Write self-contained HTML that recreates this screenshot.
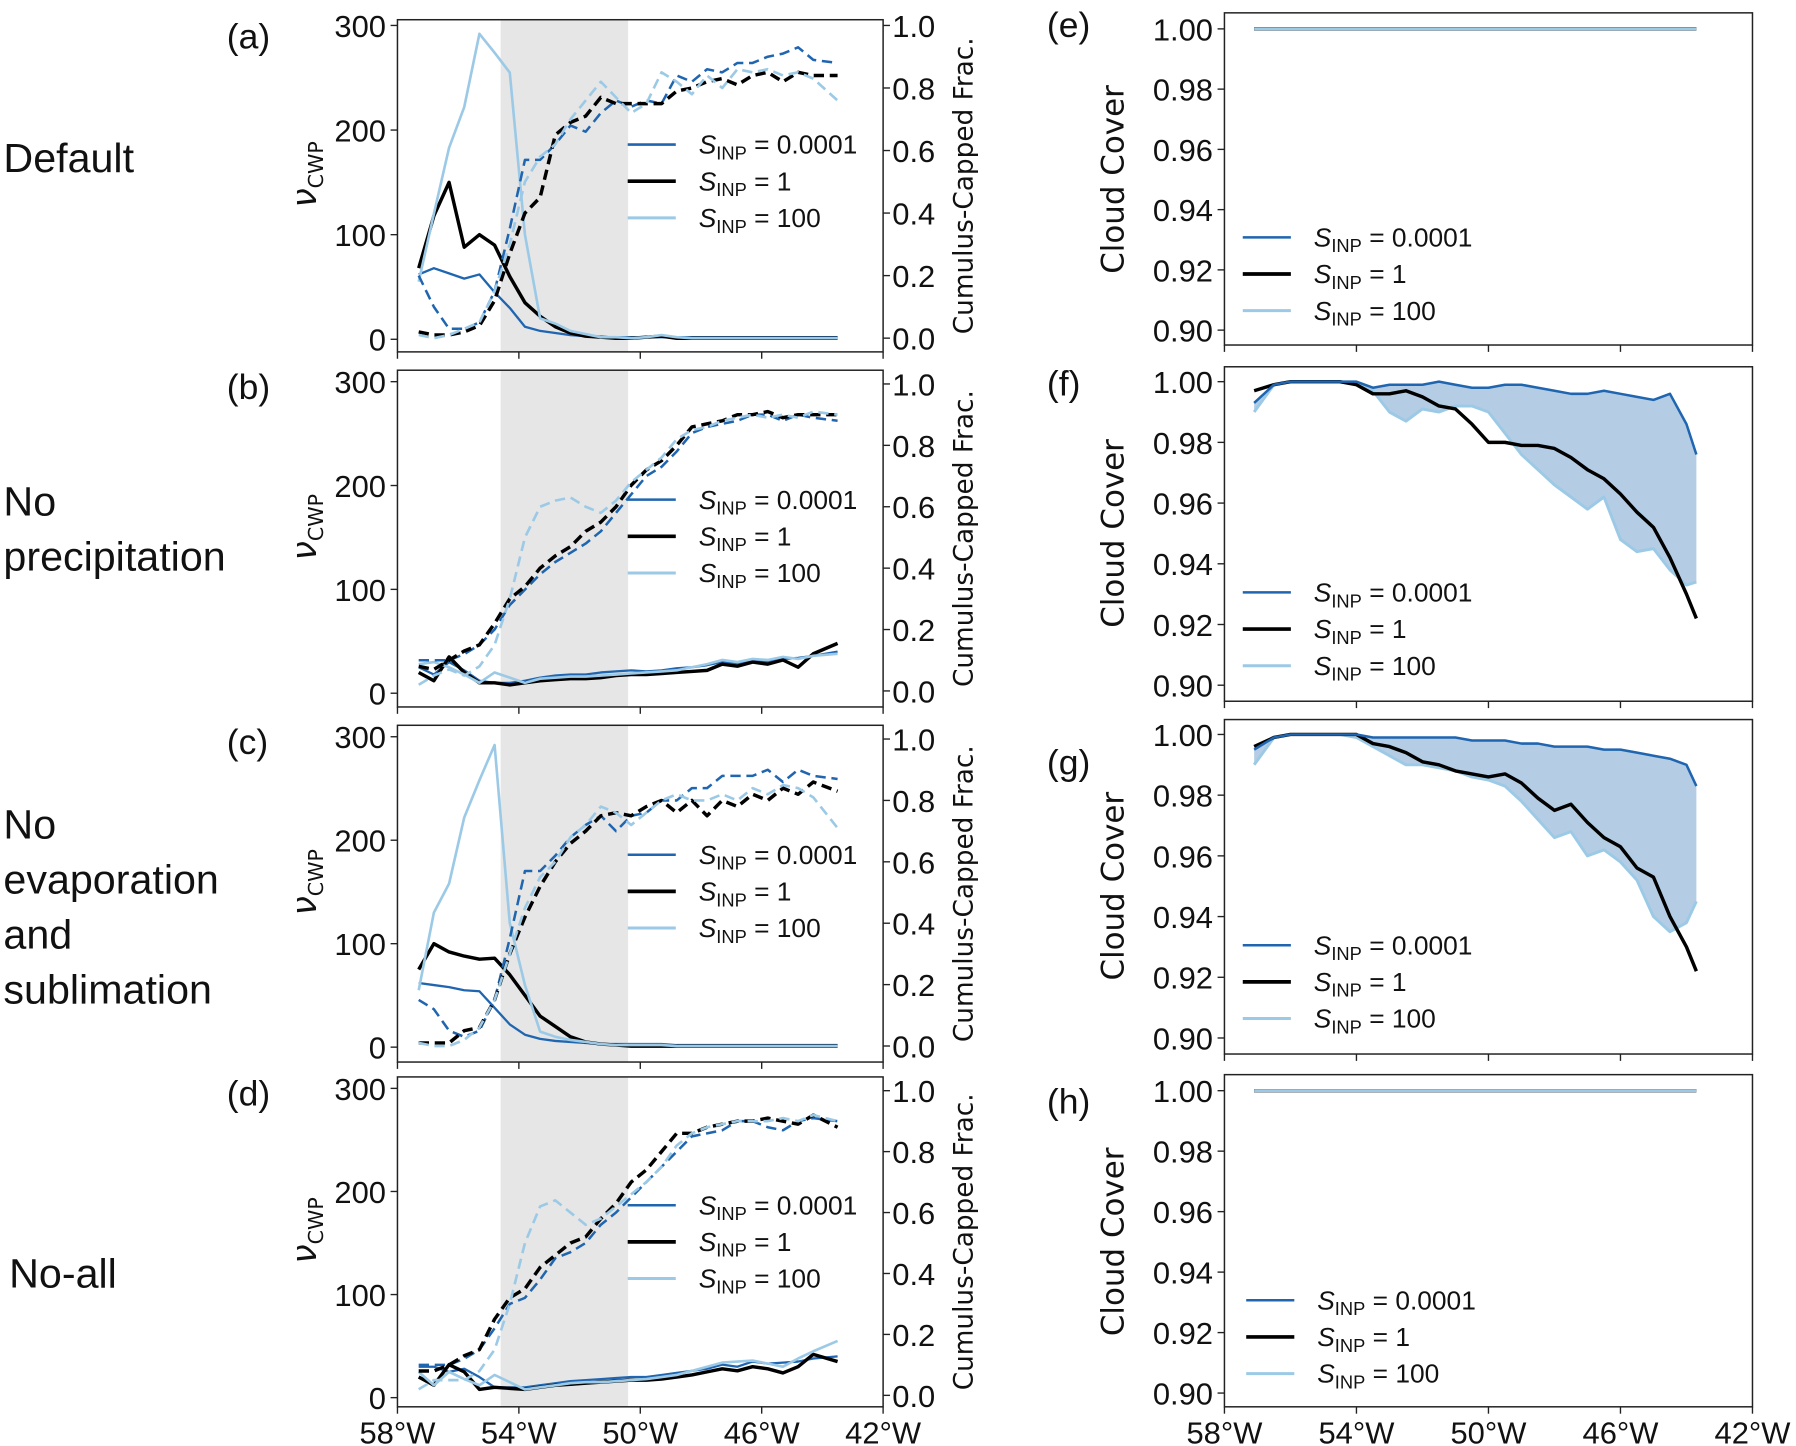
<!DOCTYPE html>
<html><head><meta charset="utf-8"><style>
html,body{margin:0;padding:0;background:#fff;}
svg{display:block;}
text{font-family:"Liberation Sans Narrow","Liberation Sans",sans-serif;fill:#111;}
.lab{font-family:"DejaVu Sans","Liberation Sans",sans-serif;}
</style></head><body>
<svg id="fig" width="1796" height="1446" viewBox="0 0 1568 1262" xmlns="http://www.w3.org/2000/svg"></svg>
<script>
// ---------- data ----------
const lonL = [57.3,56.8,56.3,55.8,55.3,54.8,54.3,53.8,53.3,52.8,52.3,51.8,51.3,50.8,50.3,49.8,49.3,48.8,48.3,47.8,47.3,46.8,46.3,45.8,45.3,44.8,44.3,43.5];
const a_cwp_dark  = [62,68,63,58,62,45,30,12,8,6,4,3,2,2,2,2,2,2,2,2,2,2,2,2,2,2,2,2];
const a_cwp_black = [68,118,150,88,100,90,60,35,22,12,6,3,2,1,1,2,3,1,1,1,1,1,1,1,1,1,1,1];
const a_cwp_light = [55,120,183,222,292,274,255,100,20,15,8,5,2,2,1,2,4,2,1,1,1,1,1,1,1,1,1,1];
const a_frac_dark  = [0.2,0.1,0.03,0.03,0.05,0.15,0.35,0.57,0.57,0.62,0.68,0.66,0.72,0.76,0.74,0.76,0.75,0.84,0.82,0.86,0.85,0.88,0.88,0.9,0.91,0.93,0.89,0.88];
const a_frac_black = [0.02,0.01,0.01,0.02,0.04,0.12,0.27,0.4,0.45,0.65,0.69,0.71,0.77,0.75,0.75,0.75,0.75,0.79,0.8,0.82,0.83,0.81,0.84,0.85,0.82,0.85,0.84,0.84];
const a_frac_light = [0.01,0.0,0.01,0.03,0.05,0.15,0.3,0.5,0.58,0.62,0.7,0.76,0.82,0.77,0.72,0.75,0.85,0.82,0.78,0.84,0.8,0.86,0.85,0.86,0.84,0.85,0.83,0.76];
const b_cwp_dark  = [25,18,30,22,12,10,10,12,15,17,18,18,20,21,22,21,22,24,25,27,30,28,32,30,33,34,36,40];
const b_cwp_black = [20,12,35,20,10,10,8,10,12,13,14,14,15,17,18,18,19,20,21,22,28,26,30,28,32,25,38,48];
const b_cwp_light = [28,30,25,18,10,20,15,10,14,15,16,16,17,18,19,20,21,22,25,28,32,30,33,32,35,33,36,38];
const b_frac_dark  = [0.1,0.1,0.1,0.12,0.15,0.2,0.28,0.33,0.38,0.42,0.45,0.48,0.52,0.58,0.64,0.7,0.73,0.78,0.84,0.86,0.87,0.88,0.9,0.9,0.88,0.9,0.89,0.88];
const b_frac_black = [0.08,0.07,0.1,0.13,0.15,0.22,0.3,0.34,0.4,0.44,0.47,0.52,0.55,0.6,0.67,0.72,0.75,0.8,0.86,0.87,0.88,0.9,0.9,0.91,0.89,0.9,0.9,0.9];
const b_frac_light = [0.02,0.05,0.07,0.05,0.08,0.15,0.3,0.5,0.6,0.62,0.63,0.6,0.58,0.62,0.68,0.72,0.76,0.82,0.85,0.86,0.88,0.89,0.9,0.89,0.9,0.89,0.91,0.9];
const c_cwp_dark  = [62,60,58,55,54,38,22,12,8,6,5,4,3,3,3,3,3,2,2,2,2,2,2,2,2,2,2,2];
const c_cwp_black = [75,100,92,88,85,86,70,50,30,20,10,5,3,2,1,1,1,1,1,1,1,1,1,1,1,1,1,1];
const c_cwp_light = [55,130,158,222,258,292,120,60,15,10,7,5,3,2,2,2,2,1,1,1,1,1,1,1,1,1,1,1];
const c_frac_dark  = [0.15,0.12,0.05,0.03,0.05,0.15,0.35,0.57,0.57,0.62,0.68,0.72,0.75,0.7,0.75,0.76,0.8,0.8,0.84,0.84,0.88,0.88,0.88,0.9,0.86,0.9,0.88,0.87];
const c_frac_black = [0.01,0.01,0.01,0.05,0.06,0.15,0.3,0.42,0.52,0.6,0.66,0.7,0.75,0.76,0.75,0.78,0.8,0.76,0.8,0.75,0.8,0.78,0.82,0.8,0.84,0.82,0.86,0.83];
const c_frac_light = [0.01,0.0,0.0,0.02,0.06,0.15,0.3,0.45,0.55,0.6,0.68,0.72,0.78,0.76,0.72,0.76,0.8,0.82,0.8,0.8,0.82,0.8,0.84,0.82,0.85,0.84,0.81,0.71];
const d_cwp_dark  = [30,30,25,28,20,10,10,10,12,14,16,17,18,19,20,20,22,24,26,28,32,30,35,33,34,35,38,40];
const d_cwp_black = [20,12,32,25,8,10,9,8,10,12,13,14,15,16,17,17,18,20,22,25,28,26,30,28,24,30,42,35];
const d_cwp_light = [25,12,25,18,12,22,15,8,10,12,14,15,15,16,17,18,20,22,26,30,34,35,36,33,30,38,45,55];
const d_frac_dark  = [0.1,0.1,0.1,0.12,0.15,0.22,0.3,0.32,0.38,0.45,0.47,0.5,0.56,0.6,0.65,0.7,0.75,0.8,0.85,0.86,0.87,0.9,0.9,0.88,0.87,0.9,0.91,0.9];
const d_frac_black = [0.08,0.08,0.1,0.13,0.15,0.25,0.32,0.35,0.42,0.46,0.5,0.52,0.58,0.63,0.7,0.74,0.8,0.86,0.86,0.88,0.89,0.9,0.9,0.91,0.9,0.89,0.92,0.88];
const d_frac_light = [0.02,0.05,0.05,0.05,0.08,0.15,0.3,0.5,0.62,0.64,0.6,0.56,0.58,0.62,0.66,0.7,0.75,0.82,0.86,0.88,0.89,0.9,0.9,0.9,0.91,0.9,0.92,0.9];

const lonR = [57.1,56.5,56,55.5,55,54.5,54,53.5,53,52.5,52,51.5,51,50.5,50,49.5,49,48.5,48,47.5,47,46.5,46,45.5,45,44.5,44,43.7];
const e_dark  = [1,1,1,1,1,1,1,1,1,1,1,1,1,1,1,1,1,1,1,1,1,1,1,1,1,1,1,1];
const e_black = [1,1,1,1,1,1,1,1,1,1,1,1,1,1,1,1,1,1,1,1,1,1,1,1,1,1,1,1];
const e_light = [1,1,1,1,1,1,1,1,1,1,1,1,1,1,1,1,1,1,1,1,1,1,1,1,1,1,1,1];
const f_dark  = [0.993,0.999,1.0,1.0,1.0,1.0,1.0,0.998,0.999,0.999,0.999,1.0,0.999,0.998,0.998,0.999,0.999,0.998,0.997,0.996,0.996,0.997,0.996,0.995,0.994,0.996,0.986,0.976];
const f_black = [0.997,0.999,1.0,1.0,1.0,1.0,0.999,0.996,0.996,0.997,0.995,0.992,0.991,0.986,0.98,0.98,0.979,0.979,0.978,0.975,0.971,0.968,0.963,0.957,0.952,0.942,0.93,0.922];
const f_light = [0.99,0.999,1.0,1.0,1.0,1.0,0.999,0.997,0.99,0.987,0.991,0.99,0.992,0.992,0.99,0.983,0.976,0.971,0.966,0.962,0.958,0.962,0.948,0.944,0.945,0.938,0.933,0.934];
const g_dark  = [0.995,0.999,1.0,1.0,1.0,1.0,1.0,0.999,0.999,0.999,0.999,0.999,0.999,0.998,0.998,0.998,0.997,0.997,0.996,0.996,0.996,0.995,0.995,0.994,0.993,0.992,0.99,0.983];
const g_black = [0.996,0.999,1.0,1.0,1.0,1.0,1.0,0.997,0.996,0.994,0.991,0.99,0.988,0.987,0.986,0.987,0.984,0.979,0.975,0.977,0.971,0.966,0.963,0.956,0.953,0.94,0.93,0.922];
const g_light = [0.99,0.999,1.0,1.0,1.0,1.0,0.999,0.996,0.993,0.99,0.99,0.989,0.988,0.986,0.985,0.983,0.978,0.972,0.966,0.968,0.96,0.962,0.958,0.952,0.94,0.935,0.938,0.945];
const h_dark  = e_dark, h_black = e_black, h_light = e_light;

const yTicksL = [0,100,200,300];
const yTicksR = [0.0,0.2,0.4,0.6,0.8,1.0];
const yTicksCC = [0.90,0.92,0.94,0.96,0.98,1.00];
const xTicks = [58,54,50,46,42];
const legendLabels = ["0.0001","1","100"];

// ---------- drawing ----------
const NS = "http://www.w3.org/2000/svg";
const svg = document.getElementById('fig');
function mk(tag, attrs, parent){ const e=document.createElementNS(NS,tag); for(const k in attrs) e.setAttribute(k,attrs[k]); (parent||svg).appendChild(e); return e; }
const C_DARK="#1f65b0", C_BLACK="#000", C_LIGHT="#9ccae6";

function legend(x, y0, step, tx){
  const cols=[C_DARK,C_BLACK,C_LIGHT], w=[2.2,3.2,2.6];
  for(let i=0;i<3;i++){
    const y=y0+i*step;
    const l=mk('line',{x1:x,x2:x+42,y1:y,y2:y,stroke:cols[i],'stroke-width':w[i]});
    
    
    const t=mk('text',{x:tx,y:y+8,'font-size':23});
    
    
    t.innerHTML='<tspan font-style="italic">S</tspan><tspan font-size="16" dy="5">INP</tspan><tspan dy="-5"> = '+legendLabels[i]+'</tspan>';
  }
}

function leftPanel(P){
  const L=347,R=771;
  const xs=lon=>L+(58-lon)*(R-L)/16;
  const yl=v=>P.y0-v*(P.y0-P.y300)/300;
  const yr=v=>P.r0-v*(P.r0-P.r1);
  const g=mk('g',{});  
  const band=mk('rect',{x:xs(54.6),y:P.top,width:xs(50.4)-xs(54.6),height:P.bot-P.top,fill:'#e6e6e6'},g);
   
  const cw=[[P.cd,C_DARK,2],[P.cb,C_BLACK,3],[P.cl,C_LIGHT,2.3]];
  cw.forEach((s,i)=>{const p=mk('polyline',{points:lonL.map((lo,j)=>xs(lo)+','+yl(s[0][j])).join(' '),fill:'none',stroke:s[1],'stroke-width':s[2],'stroke-linejoin':'round'},g);
     });
  const fr=[[P.fd,C_DARK,2.2],[P.fb,C_BLACK,3],[P.fl,C_LIGHT,2.3]];
  fr.forEach((s,i)=>{const p=mk('polyline',{points:lonL.map((lo,j)=>xs(lo)+','+yr(s[0][j])).join(' '),fill:'none',stroke:s[1],'stroke-width':s[2],'stroke-dasharray':'9,5','stroke-linejoin':'round'},g);
     });
  const fr2=mk('rect',{x:L,y:P.top,width:R-L,height:P.bot-P.top,fill:'none',stroke:'#222','stroke-width':1.3},g);
   
  yTicksL.forEach(v=>{mk('line',{x1:L-6,x2:L,y1:yl(v),y2:yl(v),stroke:'#222','stroke-width':1.2},g);
    const t=mk('text',{x:L-10,y:yl(v)+10,'font-size':27,'text-anchor':'end'},g); t.textContent=v;
     });
  yTicksR.forEach(v=>{mk('line',{x1:R,x2:R+6,y1:yr(v),y2:yr(v),stroke:'#222','stroke-width':1.2},g);
    const t=mk('text',{x:R+8,y:yr(v)+10,'font-size':27},g); t.textContent=v.toFixed(1);
     });
  xTicks.forEach(v=>{mk('line',{x1:xs(v),x2:xs(v),y1:P.bot,y2:P.bot+6,stroke:'#222','stroke-width':1.2},g);
    if(P.xlab){const t=mk('text',{x:xs(v),y:P.bot+32,'font-size':27,'text-anchor':'middle'},g); t.textContent=v+'°W';
       }});
  const mid=(P.top+P.bot)/2;
  const yt=mk('text',{class:'lab',x:0,y:0,'font-size':26,transform:`translate(276,${mid-10}) rotate(-90)`,'text-anchor':'middle'},g);
  yt.innerHTML='<tspan font-style="italic" font-size="30">ν</tspan><tspan font-size="18" dy="6">CWP</tspan>';
   
  const y2=mk('text',{class:'lab',x:0,y:0,'font-size':23,transform:`translate(849,${mid}) rotate(-90)`,'text-anchor':'middle'},g);
  y2.textContent='Cumulus-Capped Frac.';  
  const pl=mk('text',{x:198,y:P.top+25,'font-size':31},g); pl.textContent=P.label;
   
  legend(548,P.leg,32,610);
}

function rightPanel(P){
  const L=1069,R=1530;
  const xs=lon=>L+(58-lon)*(R-L)/16;
  const yv=v=>P.y1+(1-v)*(P.y90-P.y1)/0.1;
  const g=mk('g',{});  
  const n=lonR.length;
  if(P.fill){
    const pts=lonR.map((lo,j)=>xs(lo)+','+yv(P.d[j])).concat(lonR.slice().reverse().map((lo,j)=>xs(lo)+','+yv(P.l[n-1-j])));
    const f=mk('polygon',{points:pts.join(' '),fill:'#b4cde4'},g);
     
  }
  const order = P.fill ? [[P.l,C_LIGHT,2.6],[P.b,C_BLACK,3],[P.d,C_DARK,2.2]] : [[P.d,C_DARK,2.2],[P.b,C_BLACK,3],[P.l,C_LIGHT,2.6]];
  order.forEach((s,i)=>{
    const p=mk('polyline',{points:lonR.map((lo,j)=>xs(lo)+','+yv(s[0][j])).join(' '),fill:'none',stroke:s[1],'stroke-width':s[2],'stroke-linejoin':'round'},g);
     });
  const fr=mk('rect',{x:L,y:P.top,width:R-L,height:P.bot-P.top,fill:'none',stroke:'#222','stroke-width':1.3},g);
   
  yTicksCC.forEach(v=>{mk('line',{x1:L-6,x2:L,y1:yv(v),y2:yv(v),stroke:'#222','stroke-width':1.2},g);
    const t=mk('text',{x:L-10,y:yv(v)+10,'font-size':27,'text-anchor':'end'},g); t.textContent=v.toFixed(2);
     });
  xTicks.forEach(v=>{mk('line',{x1:xs(v),x2:xs(v),y1:P.bot,y2:P.bot+6,stroke:'#222','stroke-width':1.2},g);
    if(P.xlab){const t=mk('text',{x:xs(v),y:P.bot+32,'font-size':27,'text-anchor':'middle'},g); t.textContent=v+'°W';
       }});
  const mid=(P.y1+P.y90)/2;
  const yt=mk('text',{class:'lab',x:0,y:0,'font-size':27,transform:`translate(981,${mid}) rotate(-90)`,'text-anchor':'middle'},g);
  yt.textContent='Cloud Cover';  
  const pl=mk('text',{x:914,y:P.lab,'font-size':31},g); pl.textContent=P.label;
   
  legend(P.legx,P.leg,32,P.legx+62);
}

leftPanel({id:'a',label:'(a)',top:17,bot:307,y300:22,y0:296,r1:22,r0:295,cd:a_cwp_dark,cb:a_cwp_black,cl:a_cwp_light,fd:a_frac_dark,fb:a_frac_black,fl:a_frac_light,leg:126});
leftPanel({id:'b',label:'(b)',top:323,bot:617,y300:333,y0:605,r1:335,r0:603,cd:b_cwp_dark,cb:b_cwp_black,cl:b_cwp_light,fd:b_frac_dark,fb:b_frac_black,fl:b_frac_light,leg:436});
leftPanel({id:'c',label:'(c)',top:633,bot:927,y300:643,y0:914,r1:645,r0:913,cd:c_cwp_dark,cb:c_cwp_black,cl:c_cwp_light,fd:c_frac_dark,fb:c_frac_black,fl:c_frac_light,leg:746});
leftPanel({id:'d',label:'(d)',top:940,bot:1228,y300:950,y0:1220,r1:952,r0:1218,cd:d_cwp_dark,cb:d_cwp_black,cl:d_cwp_light,fd:d_frac_dark,fb:d_frac_black,fl:d_frac_light,leg:1052,xlab:true});

rightPanel({id:'e',label:'(e)',lab:32,top:11,bot:301,y1:25,y90:288,d:e_dark,b:e_black,l:e_light,leg:207,legx:1085});
rightPanel({id:'f',label:'(f)',lab:345,top:320,bot:612,y1:333,y90:598,d:f_dark,b:f_black,l:f_light,fill:true,leg:517,legx:1085});
rightPanel({id:'g',label:'(g)',lab:676,top:628,bot:920,y1:641,y90:906,d:g_dark,b:g_black,l:g_light,fill:true,leg:825,legx:1085});
rightPanel({id:'h',label:'(h)',lab:972,top:938,bot:1228,y1:952,y90:1216,d:h_dark,b:h_black,l:h_light,leg:1135,legx:1088,xlab:true});

// row labels
[["Default",3,150],["No",3,450],["precipitation",3,498],["No",3,732],["evaporation",3,780],["and",3,828],["sublimation",3,876],["No-all",8,1124]].forEach(r=>{
  const t=mk('text',{x:r[1],y:r[2],'font-size':36}); t.textContent=r[0];
   
});
</script>
</body></html>
